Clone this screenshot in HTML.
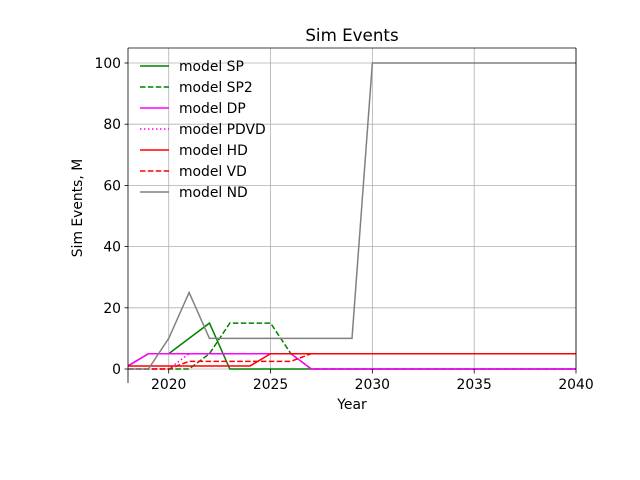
<!DOCTYPE html>
<html><head><meta charset="utf-8"><style>
body{margin:0;background:#fff;}
svg{display:block;font-family:"DejaVu Sans","Liberation Sans",sans-serif;}
</style></head><body>
<svg id="chart" width="640" height="480">
<rect width="640" height="480" fill="#fff"/>
<g id="grid"></g>
<g id="series"></g>
<g id="axes"></g>
<text x="352" y="41" font-size="16.7" text-anchor="middle">Sim Events</text>
<text x="352" y="409" font-size="13.9" text-anchor="middle">Year</text>
<text transform="translate(82,208) rotate(-90)" font-size="13.9" text-anchor="middle">Sim Events, M</text>
<g id="legend"></g>
</svg>
<script>
const years = [2018,2019,2020,2021,2022,2023,2024,2025,2026,2027,2028,2029,2030,2031,2032,2033,2034,2035,2036,2037,2038,2039,2040];
const sp   = [1,5,5,10,15,0,0,0,0,0,0,0,0,0,0,0,0,0,0,0,0,0,0];
const sp2  = [0,0,0,0,5,15,15,15,5,0,0,0,0,0,0,0,0,0,0,0,0,0,0];
const dp   = [1,5,5,5,5,5,5,5,5,0,0,0,0,0,0,0,0,0,0,0,0,0,0];
const pdvd = [0,0,0,5,5,5,5,5,5,0,0,0,0,0,0,0,0,0,0,0,0,0,0];
const hd   = [1,1,1,1,1,1,1,5,5,5,5,5,5,5,5,5,5,5,5,5,5,5,5];
const vd   = [0,0,0,2.5,2.5,2.5,2.5,2.5,2.5,5,5,5,5,5,5,5,5,5,5,5,5,5,5];
const nd   = [0,0,10,25,10,10,10,10,10,10,10,10,100,100,100,100,100,100,100,100,100,100,100];
const xTicks = [2020,2025,2030,2035,2040];
const yTicks = [0,20,40,60,80,100];
const seriesNames = ["model SP","model SP2","model DP","model PDVD","model HD","model VD","model ND"];

const NS="http://www.w3.org/2000/svg";
const L=128,R=576,T=48;
const x=v=>L+(v-2018)*(R-L)/22;
const y=v=>369-v*(369-63)/100;
function mk(tag,attrs,parent){const e=document.createElementNS(NS,tag);for(const k in attrs)e.setAttribute(k,attrs[k]);parent.appendChild(e);return e;}
const grid=document.getElementById('grid'),axes=document.getElementById('axes'),ser=document.getElementById('series'),leg=document.getElementById('legend');
xTicks.forEach(t=>{
  const g=mk('line',{x1:x(t),x2:x(t),y1:T,y2:369,stroke:'#b0b0b0','stroke-width':0.8},grid);
  
  
  mk('line',{x1:x(t),x2:x(t),y1:369,y2:373.5,stroke:'#000','stroke-width':0.8},axes);
  const tx=mk('text',{x:x(t),y:389,'font-size':13.9,'text-anchor':'middle'},axes);tx.textContent=t;
  
  
});
yTicks.forEach(t=>{
  const g=mk('line',{x1:L,x2:R,y1:y(t),y2:y(t),stroke:'#b0b0b0','stroke-width':0.8},grid);
  
  
  mk('line',{x1:L-3.5,x2:L,y1:y(t),y2:y(t),stroke:'#000','stroke-width':0.8},axes);
  const tx=mk('text',{x:L-7,y:y(t)+5,'font-size':13.9,'text-anchor':'end'},axes);tx.textContent=t;
  
  
});
mk('line',{x1:L,x2:L,y1:T,y2:383,stroke:'#000','stroke-width':0.8},axes);
mk('line',{x1:R,x2:R,y1:T,y2:369,stroke:'#000','stroke-width':0.8},axes);
mk('line',{x1:L,x2:R,y1:T,y2:T,stroke:'#000','stroke-width':0.8},axes);
const styles=[
 [sp,'#008000',''],[sp2,'#008000','5.5,2.4'],[dp,'#ff00ff',''],[pdvd,'#ff00ff','1.5,2.5'],
 [hd,'#ff0000',''],[vd,'#ff0000','5.5,2.4'],[nd,'#808080','']];
const names=['series-sp','series-sp2','series-dp','series-pdvd','series-hd','series-vd','series-nd'];
styles.forEach((s,i)=>{
  const pts=s[0].map((v,j)=>x(years[j])+','+y(v)).join(' ');
  const p=mk('polyline',{points:pts,fill:'none',stroke:s[1],'stroke-width':1.5,'stroke-dasharray':s[2]},ser);
  
  
  const ly=66+i*21;
  mk('line',{x1:140,x2:169,y1:ly,y2:ly,stroke:s[1],'stroke-width':1.5,'stroke-dasharray':s[2]},leg);
  const t=mk('text',{x:179,y:ly+5,'font-size':13.9},leg);t.textContent=seriesNames[i];
  
  
});
</script>
</body></html>
